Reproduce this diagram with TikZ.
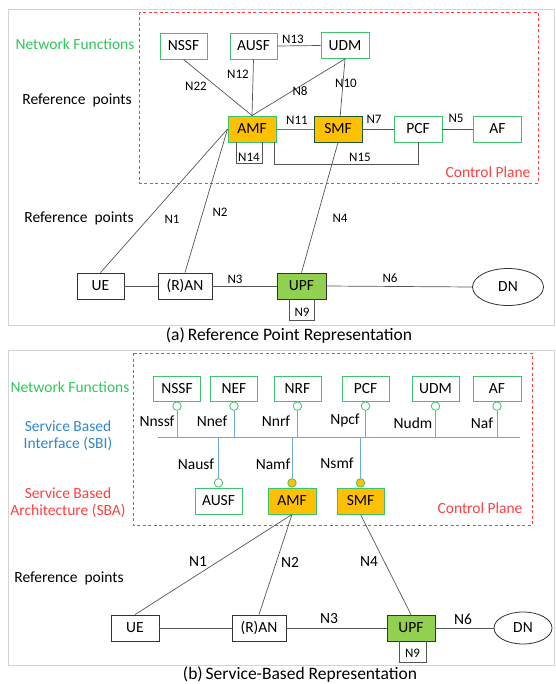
\documentclass[tikz,border=0pt]{standalone}
\usepackage{fontspec}
\setmainfont{Carlito}
\usetikzlibrary{shapes.geometric,calc}
\definecolor{nfgreen}{HTML}{3CC46E}
\definecolor{txtgreen}{HTML}{2DC85A}
\definecolor{cpred}{HTML}{FF4040}
\definecolor{sbiblue}{HTML}{2E86D0}
\definecolor{busblue}{HTML}{6FA8DC}
\definecolor{amforange}{HTML}{FFC000}
\definecolor{upfgreen}{HTML}{92D050}
\definecolor{framegray}{HTML}{D4D4D4}
\definecolor{linegray}{HTML}{555555}
\tikzset{
  boxfont/.style={font=\fontsize{15.5}{17}\selectfont},
  capfont/.style={font=\fontsize{17.5}{19}\selectfont, inner sep=0},
  lblfont/.style={font=\fontsize{13}{15}\selectfont},
  nfbox/.style={draw=nfgreen, fill=white, line width=0.9pt, minimum width=47, minimum height=26, inner sep=0, boxfont},
  orbox/.style={nfbox, fill=amforange},
  plainbox/.style={draw=black!80, fill=white, line width=0.8pt, minimum width=47, minimum height=26, inner sep=0, boxfont},
  upfbox/.style={plainbox, fill=upfgreen},
  dnell/.style={ellipse, draw=black!80, fill=white, line width=0.8pt, inner sep=0, boxfont},
  conn/.style={draw=linegray, line width=0.7pt},
  lbl/.style={lblfont, inner sep=0},
  sbilbl/.style={boxfont, inner sep=0},
  cpframe/.style={draw=cpred, dashed, line width=0.9pt, dash pattern=on 3pt off 2.5pt},
  outframe/.style={draw=framegray, line width=1pt},
  sbiport/.style={circle, draw=nfgreen, fill=white, line width=0.8pt, minimum size=8.5, inner sep=0},
  sbaport/.style={circle, draw=nfgreen, fill=amforange, line width=0.8pt, minimum size=8.5, inner sep=0},
  bus/.style={draw=busblue, line width=1pt},
}
\begin{document}
\begin{tikzpicture}[x=1pt,y=-1pt]
\useasboundingbox (0,0) rectangle (555,684);
% ================= (a) =================
\draw[outframe] (8,10) rectangle (554.5,325);
\draw[cpframe] (139,12) rectangle (538,183);
\node[boxfont, text=txtgreen] (nfa) at (75,44) {Network Functions};
\node[boxfont] (rpa1) at (77,100) {Reference\ \ points};
\node[boxfont] (rpa2) at (79,218) {Reference\ \ points};
\node[boxfont, text=cpred, anchor=east] (cpa) at (534,172) {Control Plane};

\node[nfbox] (NSSFa) at (183.5,46) {NSSF};
\node[nfbox] (AUSFa) at (253.5,46) {AUSF};
\node[nfbox, minimum width=48] (UDMa) at (345,45.5) {UDM};
\node[nfbox, minimum width=48] (PCFa) at (418,129) {PCF};
\node[nfbox, minimum width=48] (AFa) at (497.5,129) {AF};
\node[plainbox] (UEa) at (100.5,286) {UE};
\node[plainbox, minimum width=54] (RANa) at (185,286) {(R)AN};
\node[dnell, minimum width=71, minimum height=37] (DNa) at (508,287) {DN};

\coordinate (smfaS) at (338,142);
\draw[conn] (UDMa.south) -- (smfaS);
\node[orbox, minimum width=48] (AMFa) at (252,129) {AMF};
\node[orbox, draw=black!55!nfgreen, minimum width=48] (SMFa) at (338,129) {SMF};
\node[upfbox, minimum width=49] (UPFa) at (301.5,286) {UPF};

\draw[conn] (NSSFa.south) -- (AMFa.north);
\draw[conn] (AUSFa.south) -- (AMFa.north);
\draw[conn] (UDMa.south) -- (AMFa.north);
\draw[conn] (AUSFa.east) -- (UDMa.west);
\draw[draw=sbiblue, line width=0.7pt] (AMFa.east) -- (SMFa.west);
\draw[conn] (SMFa.east) -- (PCFa.west);
\draw[conn] (PCFa.east) -- (AFa.west);
\draw[conn] (SMFa.south) -- (UPFa.north);
\draw[conn] (AMFa.west) -- (UEa.north);
\draw[conn] (AMFa.west) -- (RANa.north);
\draw[conn] ([xshift=22]AMFa.south) -- ++(0,22) -| (PCFa.south);
\draw[conn] ([xshift=-16]AMFa.south) -- ++(0,21) -| ([xshift=10]AMFa.south);
\draw[conn] (UEa.east) -- (RANa.west);
\draw[conn] (RANa.east) -- (UPFa.west);
\draw[conn] (UPFa.east) -- (DNa.west);
\draw[conn] ([xshift=-12]UPFa.south) -- ++(0,21) -| ([xshift=13]UPFa.south);

\node[lbl] (l22) at (196,86) {N22};
\node[lbl] (l12) at (238,74) {N12};
\node[lbl] (l13) at (293,39) {N13};
\node[lbl] (l8) at (300,91) {N8};
\node[lbl] (l10) at (346,83) {N10};
\node[lbl] (l11) at (297,120) {N11};
\node[lbl] (l7) at (374,119) {N7};
\node[lbl] (l5) at (456,118) {N5};
\node[lbl] (l15) at (360,157) {N15};
\node[lbl] (l14) at (249,157) {N14};
\node[lbl] (l1) at (172,219) {N1};
\node[lbl] (l2) at (220,212) {N2};
\node[lbl] (l4) at (340,218) {N4};
\node[lbl] (l3) at (235,279) {N3};
\node[lbl] (l6) at (390,278) {N6};
\node[lbl] (l9) at (302,312) {N9};

\node[capfont] (capa) at (289,336) {(a)\,Reference Point Representation};

% ================= (b) =================
\draw[outframe] (8,350) rectangle (554.5,665);
\draw[cpframe] (133,353) rectangle (532,525);
\node[boxfont, text=txtgreen] (nfb) at (70,387) {Network Functions};
\node[boxfont, text=sbiblue, align=center] (sbi) at (68,436) {Service Based\\Interface (SBI)};
\node[boxfont, text=cpred, align=center] (sba) at (68,503) {Service Based\\Architecture (SBA)};
\node[boxfont] (rpb) at (69,578) {Reference\ \ points};
\node[boxfont, text=cpred, anchor=east] (cpb) at (526,508) {Control Plane};

\node[nfbox, minimum height=25] (NSSFb) at (177,388.5) {NSSF};
\node[nfbox, minimum height=25] (NEFb) at (234,388.5) {NEF};
\node[nfbox, minimum height=25] (NRFb) at (297.5,388.5) {NRF};
\node[nfbox, minimum height=25] (PCFb) at (365.5,388.5) {PCF};
\node[nfbox, minimum height=25] (UDMb) at (435.5,388.5) {UDM};
\node[nfbox, minimum height=25, minimum width=48] (AFb) at (497,388.5) {AF};

\coordinate (busL) at (158,437);
\coordinate (busR) at (520,437);
\draw[bus] (busL) -- (busR);

\foreach \n in {NSSFb,NEFb,NRFb,PCFb,UDMb,AFb}{
  \node[sbiport, anchor=north] (\n p) at (\n.south) {};
  \draw[bus] (\n p.south) -- (\n p.south |- busL);
}

\node[nfbox] (AUSFb) at (218.5,501) {AUSF};
\node[orbox, minimum width=48] (AMFb) at (292,501) {AMF};
\node[orbox] (SMFb) at (360.5,501) {SMF};
\node[sbiport, anchor=south] (AUSFbp) at (AUSFb.north) {};
\node[sbaport, anchor=south] (AMFbp) at (AMFb.north) {};
\node[sbaport, anchor=south] (SMFbp) at (SMFb.north) {};
\draw[bus] (AUSFbp.north) -- (AUSFbp.north |- busL);
\draw[bus] (AMFbp.north) -- (AMFbp.north |- busL);
\draw[bus] (SMFbp.north) -- (SMFbp.north |- busL);

\node[sbilbl] (lnssf) at (157,421) {Nnssf};
\node[sbilbl] (lnef) at (212,421) {Nnef};
\node[sbilbl] (lnrf) at (276,421) {Nnrf};
\node[sbilbl] (lpcf) at (345,420) {Npcf};
\node[sbilbl] (ludm) at (413,423) {Nudm};
\node[sbilbl] (laf) at (482,423) {Naf};
\node[sbilbl] (lausf) at (196,464) {Nausf};
\node[sbilbl] (lamf) at (273,464) {Namf};
\node[sbilbl] (lsmf) at (337,463) {Nsmf};

\node[plainbox, minimum width=48] (UEb) at (135,628) {UE};
\node[plainbox, minimum width=54] (RANb) at (259,628) {(R)AN};
\node[upfbox, minimum width=48] (UPFb) at (411,628) {UPF};
\node[dnell, minimum width=58, minimum height=32] (DNb) at (523,628) {DN};

\draw[conn] (AMFb.south) -- (UEb.north);
\draw[conn] (AMFb.south) -- (RANb.north);
\draw[conn] (SMFb.south) -- (UPFb.north);
\draw[conn] (UEb.east) -- (RANb.west);
\draw[conn] (RANb.east) -- (UPFb.west);
\draw[conn] (UPFb.east) -- (DNb.west);
\draw[conn] ([xshift=-12]UPFb.south) -- ++(0,21) -| ([xshift=15]UPFb.south);

\node[sbilbl] (m1) at (198,562) {N1};
\node[sbilbl] (m2) at (290,562) {N2};
\node[sbilbl] (m4) at (369,562) {N4};
\node[sbilbl] (m3) at (329,619) {N3};
\node[sbilbl] (m6) at (463,619) {N6};
\node[lbl] (m9) at (412.5,653) {N9};

\node[capfont] (capb) at (300,675) {(b)\,Service-Based Representation};
\end{tikzpicture}
\end{document}
